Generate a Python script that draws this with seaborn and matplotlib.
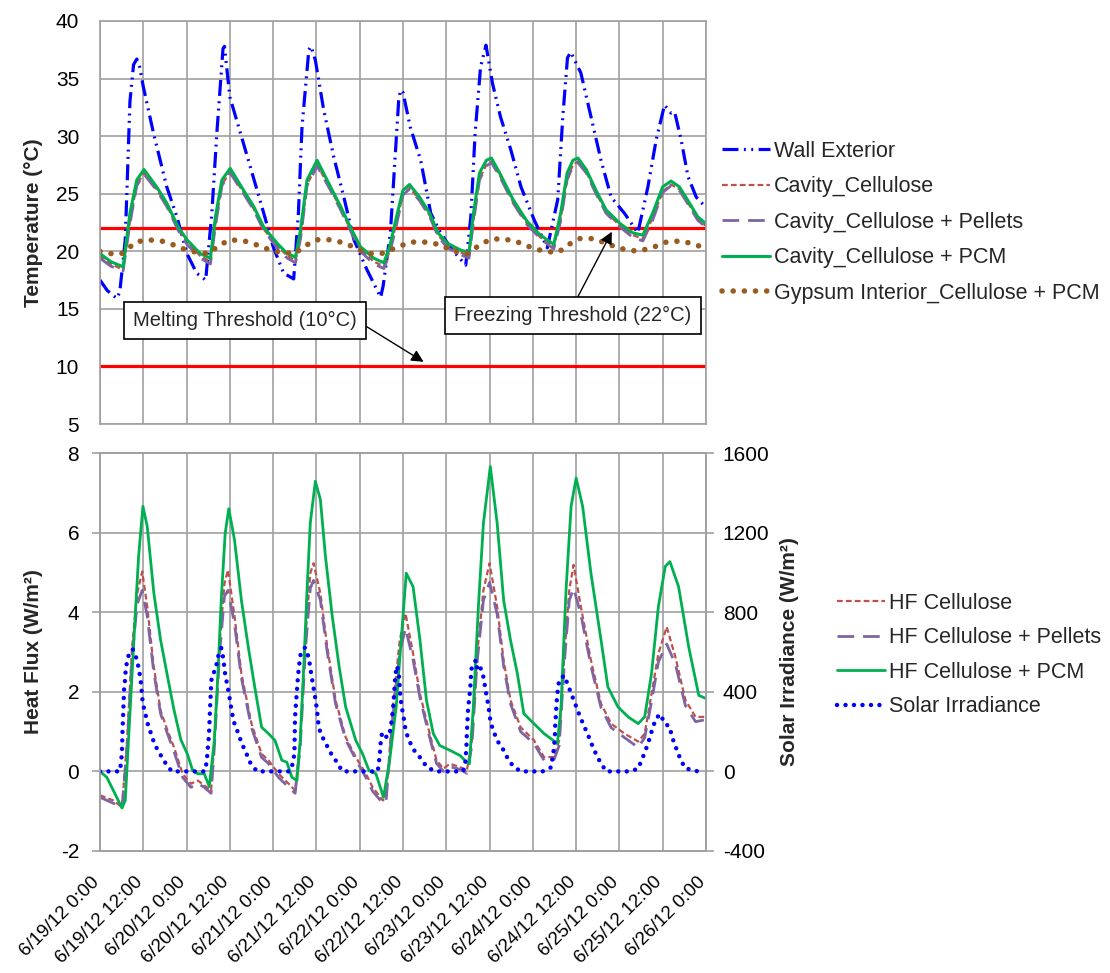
import matplotlib
matplotlib.use("Agg")
import matplotlib.pyplot as plt
import seaborn as sns

sns.set_style("white")
plt.rcParams["font.family"] = ["Liberation Sans", "DejaVu Sans"]
plt.rcParams["axes.unicode_minus"] = False

# ---------------- data (hours since 6/19/12 0:00) ----------------
hour_ticks = [0, 12, 24, 36, 48, 60, 72, 84, 96, 108, 120, 132, 144, 156, 168]
tick_labels = ["6/19/12 0:00", "6/19/12 12:00", "6/20/12 0:00", "6/20/12 12:00",
               "6/21/12 0:00", "6/21/12 12:00", "6/22/12 0:00", "6/22/12 12:00",
               "6/23/12 0:00", "6/23/12 12:00", "6/24/12 0:00", "6/24/12 12:00",
               "6/25/12 0:00", "6/25/12 12:00", "6/26/12 0:00"]

thresholds = [22, 10]

wall_t = [0, 2, 4.7, 5.5, 7, 8.3, 9.3, 10.2, 11, 12, 14.8, 18.5, 21.3, 24.1, 26.8, 29.3,
          31, 32.4, 34.1, 34.5, 36, 38.9, 41.7, 45.4, 48, 50.9, 53.7, 55, 56, 57.9, 58.5,
          59.7, 62, 64.8, 67.6, 70.4, 74, 77.8, 78.5, 80.5, 82.8, 83.3, 84.0, 86, 88.9,
          91.7, 94.4, 97.7, 101.4, 102.8, 104, 105.5, 107, 108.8, 111, 113.9, 116.7,
          120.4, 124, 126.9, 128.3, 129.6, 130.5, 133.3, 136.1, 138.9, 141.7, 145.4,
          149.1, 151.9, 154.2, 156.5, 158.3, 159.3, 161.1, 163, 165.3, 168]
wall_v = [17.5, 16.6, 15.9, 16.5, 21, 33, 36.2, 36.7, 36.0, 34.3, 30.3, 25.6, 23.0, 19.8,
          18.1, 17.5, 23.3, 30.3, 37.6, 37.8, 33.4, 30.3, 27.3, 23.3, 20.4, 18.1, 17.6,
          23.3, 30.8, 37.5, 37.8, 36.6, 32.3, 28.2, 24.7, 21.0, 18.4, 16.0, 17.0, 21.6,
          33.1, 34.0, 33.8, 30.8, 27.9, 23.3, 21.6, 20.1, 18.8, 23.0, 30.3, 36.0, 37.9,
          34.6, 31.7, 28.8, 25.6, 22.7, 20.3, 24.5, 31.7, 36.8, 37.3, 35.5, 31.7, 27.9,
          24.7, 23.3, 21.6, 25.6, 29.7, 32.7, 32.0, 32.1, 29.7, 26.5, 24.7, 23.8]

cav_t = [0, 3, 6.4, 8.3, 10.2, 12.2, 15.7, 18.5, 21.7, 24.1, 27.8, 30.6, 32, 33.8, 36.1,
         39.8, 42.6, 45.4, 49.1, 51.9, 54.2, 55.6, 57.4, 60.2, 63.9, 66.7, 69.4, 72.2,
         75.9, 78.7, 80.3, 82.2, 84, 85.8, 88.6, 91.4, 93.7, 96.3, 100, 102.3, 103.4,
         105.2, 107.1, 108.5, 110.8, 114.5, 118.4, 122.1, 125.8, 127.7, 129.5, 131.1,
         132.5, 134.8, 137.5, 140.3, 144.2, 147.7, 150.5, 153.2, 156, 158.3, 160.6,
         163.4, 165.7, 168]
cav_pcm = [19.8, 19.1, 18.65, 23.3, 26.2, 27.1, 25.6, 24.2, 22.1, 21.0, 19.8, 19.4, 23.0,
           26.2, 27.2, 25.3, 23.9, 22.1, 20.7, 19.8, 19.5, 21.9, 26.2, 27.9, 25.6, 23.9,
           22.1, 20.4, 19.4, 19.0, 20.4, 23.0, 25.3, 25.8, 24.7, 23.3, 21.6, 20.7, 20.1,
           19.9, 23.0, 26.8, 27.9, 28.1, 26.8, 24.5, 22.6, 21.4, 20.6, 23.3, 26.8, 27.9,
           28.1, 27.1, 25.3, 23.6, 22.4, 21.6, 21.4, 23.3, 25.6, 26.1, 25.6, 24.2, 23.0,
           22.4]
cav_cell = [19.6, 18.9, 18.4, 22.6, 25.8, 26.8, 25.4, 24.0, 21.9, 20.8, 19.6, 19.1, 22.4,
            25.8, 26.9, 25.1, 23.7, 21.9, 20.5, 19.6, 19.2, 21.3, 25.8, 27.5, 25.4, 23.7,
            21.9, 20.2, 19.1, 18.7, 20.0, 22.5, 25.0, 25.5, 24.5, 23.1, 21.4, 20.5, 19.9,
            19.6, 22.4, 26.3, 27.5, 27.8, 26.6, 24.3, 22.4, 21.2, 20.4, 22.8, 26.3, 27.5,
            27.8, 26.9, 25.1, 23.4, 22.2, 21.4, 21.1, 22.9, 25.2, 25.8, 25.4, 24.0, 22.8,
            22.2]
cav_pel = [19.4, 18.7, 18.3, 22.4, 25.7, 26.7, 25.3, 23.9, 21.8, 20.6, 19.4, 18.9, 22.2,
           25.7, 26.8, 25.0, 23.6, 21.8, 20.3, 19.4, 19.0, 21.1, 25.7, 27.4, 25.3, 23.6,
           21.8, 20.0, 18.9, 18.5, 19.8, 22.3, 24.9, 25.4, 24.4, 23.0, 21.3, 20.3, 19.7,
           19.4, 22.2, 26.2, 27.4, 27.7, 26.5, 24.2, 22.3, 21.1, 20.2, 22.6, 26.2, 27.4,
           27.7, 26.8, 25.0, 23.3, 22.1, 21.2, 20.9, 22.7, 25.1, 25.7, 25.3, 23.9, 22.7,
           22.1]

gyp_t = [0, 3, 6, 8, 10, 13, 17, 20, 24, 27, 30, 33, 36, 40, 44, 48, 51, 54, 57, 60, 64,
         68, 72, 75, 78, 82, 86, 90, 94, 98, 102, 105, 108, 111, 115, 119, 123, 127, 130,
         133, 137, 141, 145, 149, 153, 157, 161, 165, 168]
gyp_v = [20.0, 19.8, 19.8, 20.3, 20.8, 21.0, 20.9, 20.6, 20.1, 19.9, 19.8, 20.5, 21.0,
         20.9, 20.5, 20.0, 19.9, 19.8, 20.5, 21.0, 21.0, 20.7, 20.1, 19.8, 19.8, 20.3,
         20.8, 20.8, 20.6, 20.0, 19.8, 20.5, 21.0, 21.1, 20.9, 20.4, 20.0, 19.9, 20.6,
         21.1, 21.1, 20.6, 20.2, 20.0, 20.3, 20.8, 20.9, 20.6, 20.2]

hf_pcm_t = [0, 1.9, 3.7, 6.1, 7, 7.9, 8.9, 9.8, 10.7, 11.9, 13.1, 14.9, 16.8, 18.9, 20.5,
            22.4, 24.3, 25.7, 27.1, 28.9, 30.3, 31.7, 32.7, 33.6, 34.7, 35.7, 37.3, 39.2,
            41.1, 42.9, 44.8, 46.7, 48.5, 50.4, 51.8, 53.2, 54.6, 55.5, 56.4, 57.4, 58.3,
            59.7, 61.1, 62.5, 64.4, 66.3, 68.1, 70.9, 72.8, 74.6, 76.5, 78.6, 80.3, 82.1,
            83.5, 84.9, 86.8, 88.7, 90.5, 92.4, 94.2, 97, 99.8, 101.7, 102.4, 103.5, 104.9,
            106.3, 108.2, 110.1, 111.9, 113.8, 115.7, 117.5, 120.3, 123.1, 126.8, 127.8,
            129.2, 130.6, 132, 133.8, 136.1, 138.9, 140.8, 143.6, 146.4, 149.2, 151, 152.9,
            154.8, 156.7, 158, 160.4, 163.2, 166, 168]
hf_pcm = [0.0, -0.15, -0.48, -0.92, -0.73, 0.78, 2.46, 3.97, 5.4, 6.66, 6.15, 4.5, 3.3,
          2.3, 1.55, 0.8, 0.42, 0.02, -0.06, -0.06, -0.38, 0.78, 2.46, 4.3, 5.98, 6.6,
          5.81, 4.3, 3.13, 2.12, 1.11, 0.95, 0.78, 0.28, 0.23, -0.15, -0.23, 0.78, 2.46,
          4.56, 6.24, 7.29, 6.83, 5.4, 3.89, 2.63, 1.62, 0.78, 0.44, 0.02, -0.06, -0.65,
          0.28, 1.62, 3.3, 4.98, 4.64, 3.3, 1.79, 0.95, 0.65, 0.53, 0.4, 0.23, 0.19, 1.62,
          4.14, 6.24, 7.66, 6.24, 4.3, 3.3, 2.46, 1.45, 1.2, 0.95, 0.7, 1.62, 4.56, 6.66,
          7.37, 6.66, 4.98, 3.3, 2.12, 1.62, 1.37, 1.2, 1.37, 2.46, 4.14, 5.15, 5.27, 4.64,
          3.13, 1.91, 1.83]

hf_t = [0, 3.7, 6.1, 7.5, 8.9, 10.3, 11.7, 13.1, 14.9, 16.8, 18.7, 20.5, 22.9, 25.2, 27.1,
        28.9, 30.8, 31.7, 33.1, 34.5, 35.5, 37.3, 39.2, 42, 44.8, 46.7, 49.5, 52.3, 54.1,
        55.5, 56.9, 58.3, 59.2, 61.1, 63, 65.3, 68.1, 70.9, 73.7, 75.6, 78.4, 79.3, 81.2,
        83.1, 84.7, 86.8, 88.7, 91.4, 93.3, 95.2, 97, 99.8, 101.7, 103.1, 104.5, 106.3,
        108, 110.1, 111.9, 113.8, 116.6, 120.3, 123.1, 125.9, 127.3, 128.7, 130.1, 131.3,
        133.3, 136.1, 138.9, 141.7, 145.4, 149.2, 151, 152.9, 154.8, 157.1, 159.5, 162.3,
        165.1, 168]
hf_cell = [-0.6, -0.73, -0.9, 0.78, 3.13, 4.47, 5.02, 4.14, 2.63, 1.53, 1.03, 0.61, -0.06,
           -0.31, -0.23, -0.35, -0.48, 0.78, 3.13, 4.72, 5.06, 3.89, 2.46, 1.2, 0.44, 0.28,
           -0.06, -0.31, -0.48, 0.78, 3.3, 4.98, 5.23, 4.47, 3.13, 1.79, 0.86, 0.36, -0.06,
           -0.4, -0.73, -0.65, 1.62, 3.3, 3.97, 2.96, 1.95, 0.95, 0.28, 0.07, 0.19, 0.11,
           0.02, 0.78, 2.88, 4.56, 5.23, 4.14, 2.79, 1.79, 1.11, 0.78, 0.36, 0.36, 0.78,
           2.88, 4.56, 5.19, 4.14, 2.79, 1.7, 1.2, 0.95, 0.75, 0.95, 1.95, 2.96, 3.63, 2.88,
           1.79, 1.37, 1.37]
hf_pel = [-0.65, -0.8, -0.92, 0.6, 2.9, 4.2, 4.55, 3.9, 2.5, 1.45, 0.95, 0.5, -0.15, -0.4,
          -0.3, -0.4, -0.55, 0.6, 2.9, 4.4, 4.55, 3.7, 2.35, 1.1, 0.35, 0.2, -0.15, -0.4,
          -0.55, 0.6, 3.0, 4.6, 4.8, 4.3, 3.0, 1.7, 0.8, 0.3, -0.15, -0.5, -0.8, -0.75, 1.4,
          3.0, 3.6, 2.8, 1.85, 0.85, 0.2, 0.0, 0.12, 0.05, -0.05, 0.65, 2.7, 4.3, 4.75,
          3.95, 2.65, 1.7, 1.0, 0.7, 0.28, 0.3, 0.65, 2.7, 4.3, 4.6, 3.95, 2.65, 1.6, 1.1,
          0.85, 0.6, 0.85, 1.75, 2.75, 3.2, 2.7, 1.65, 1.25, 1.3]

sol_t = [0, 2, 4, 5.5, 5.74, 6.02, 6.15, 6.2, 6.3, 6.4, 6.55, 6.67, 6.94, 7.13, 7.69, 8.3,
         9.07, 10.19, 10.83, 11.3, 11.57, 11.85, 12.5, 13.24, 14.17, 15.1, 16.48, 18.15,
         19.9, 22.7, 25.9, 29.0, 29.6, 29.8, 30.1, 30.3, 30.4, 30.55, 30.65, 30.8, 31.0,
         32.2, 32.4, 33.6, 34.26, 34.5, 35.0, 35.6, 36.1, 36.6, 37.3, 38.4, 39.3, 40.5,
         41.5, 43.5, 46.5, 49.5, 52.6, 53.5, 53.9, 53.95, 54.0, 54.05, 54.2, 54.45, 54.7,
         54.9, 55.2, 55.6, 56.8, 57.9, 58.3, 58.8, 59.3, 59.8, 60.2, 60.5, 61.1, 62.5,
         63.9, 65.6, 67.2, 70, 73, 77.0, 77.3, 77.6, 77.8, 78.2, 78.9, 80.1, 80.6, 81.0,
         81.3, 81.5, 81.7, 81.9, 82.4, 82.9, 83.1, 83.3, 83.8, 84.3, 84.7, 85.6, 87.0,
         88.9, 90.7, 93.1, 96, 99, 100.6, 101.2, 101.4, 101.6, 101.7, 101.85, 102.0, 102.3,
         102.6, 102.8, 102.9, 104.2, 104.6, 105.4, 106.3, 106.9, 107.4, 107.9, 108.3,
         109.3, 110.6, 112.0, 113.0, 114.6, 116.7, 120, 122.7, 125.0, 125.5, 125.9, 126.1,
         126.2, 126.4, 126.6, 126.9, 127.3, 128.7, 129.9, 131.0, 132.1, 133.1, 134.3,
         135.5, 136.6, 138.0, 140.3, 143.2, 146.3, 149.1, 150.3, 151.4, 152.3, 153.2,
         154.2, 155.4, 156.5, 157.9, 158.6, 159.7, 160.8, 162.2, 165.8]
sol_v = [0, 0, 0, 0, 32, 82, 132, 182, 234, 294, 350, 410, 460, 514, 570, 600, 614, 564,
         510, 454, 400, 344, 294, 238, 188, 138, 92, 42, 0, 0, 0, 0, 48, 98, 158, 216, 272,
         328, 374, 428, 484, 514, 560, 620, 560, 510, 460, 404, 350, 292, 238, 188, 140,
         94, 48, 0, 0, 0, 0, 42, 92, 152, 206, 260, 310, 370, 426, 480, 532, 588, 622,
         572, 518, 464, 410, 354, 300, 246, 192, 144, 94, 48, 0, 0, 0, 0, 42, 92, 142,
         194, 174, 174, 224, 274, 328, 384, 442, 488, 530, 476, 422, 368, 310, 258, 208,
         158, 108, 66, 20, 0, 0, 0, 0, 24, 74, 132, 192, 244, 300, 358, 408, 462, 512,
         560, 510, 525, 474, 408, 358, 300, 244, 192, 140, 104, 66, 24, 0, 0, 0, 20, 74,
         124, 174, 230, 294, 350, 408, 460, 482, 426, 374, 322, 274, 224, 174, 124, 68, 0,
         0, 0, 12, 62, 114, 162, 218, 268, 288, 240, 226, 172, 118, 66, 16, 0]

# ---------------- figure ----------------
W, H = 1110, 973
fig = plt.figure(figsize=(W / 100, H / 100), dpi=100)
ax1 = fig.add_axes([100 / W, 1 - 424 / H, 606 / W, 403 / H])
ax2 = fig.add_axes([100 / W, 1 - 851 / H, 606 / W, 398 / H])
ax3 = ax2.twinx()

GRID = "#A0A0A0"
FS = 15

# top panel
for th in thresholds:
    ax1.axhline(th, color="#FF0000", lw=2.3, zorder=2)

sns.lineplot(x=wall_t, y=wall_v, ax=ax1, color="#0000FF", lw=2.3, legend=False,
             estimator=None, linestyle=(0, (5, 1.7, 0.6, 1.7, 0.6, 1.7)),
             label="Wall Exterior")
sns.lineplot(x=cav_t, y=cav_cell, ax=ax1, color="#C0504D", lw=1.6, legend=False,
             estimator=None, linestyle=(0, (2.6, 1.4)), label="Cavity_Cellulose")
sns.lineplot(x=cav_t, y=cav_pel, ax=ax1, color="#8064A2", lw=2.0, legend=False,
             estimator=None, linestyle=(0, (6, 3.2)), label="Cavity_Cellulose + Pellets")
sns.lineplot(x=cav_t, y=cav_pcm, ax=ax1, color="#00B050", lw=2.2, legend=False,
             estimator=None, label="Cavity_Cellulose + PCM")
sns.lineplot(x=gyp_t, y=gyp_v, ax=ax1, color="#9A5B20", lw=4.0, legend=False,
             estimator=None, linestyle=(0, (0.01, 2.0)), dash_capstyle="round",
             label="Gypsum Interior_Cellulose + PCM")

ax1.set_xlim(0, 168)
ax1.set_ylim(5, 40)
ax1.set_yticks(range(5, 41, 5))
ax1.set_xticks(hour_ticks)
ax1.set_xticklabels([])
ax1.set_ylabel("Temperature (°C)", fontsize=FS, fontweight="bold")
ax1.yaxis.set_label_coords(-0.094, 0.5)

ax1.annotate("Melting Threshold (10°C)", xy=(89.7, 10.4), xytext=(40.1, 14.0),
             fontsize=14.5, ha="center", va="center",
             bbox=dict(boxstyle="square,pad=0.45", fc="white", ec="black", lw=1.2),
             arrowprops=dict(arrowstyle="-|>", color="black", lw=1.0,
                             mutation_scale=18, relpos=(1, 0.5), shrinkA=0, shrinkB=0),
             zorder=6)
ax1.annotate("Freezing Threshold (22°C)", xy=(141.9, 21.7), xytext=(131.1, 14.4),
             fontsize=14.5, ha="center", va="center",
             bbox=dict(boxstyle="square,pad=0.45", fc="white", ec="black", lw=1.2),
             arrowprops=dict(arrowstyle="-|>", color="black", lw=1.0,
                             mutation_scale=18, relpos=(0.5, 1), shrinkA=0, shrinkB=0),
             zorder=6)

# bottom panel
sns.lineplot(x=hf_t, y=hf_cell, ax=ax2, color="#C0504D", lw=1.6, legend=False,
             estimator=None, linestyle=(0, (2.6, 1.4)), label="HF Cellulose")
sns.lineplot(x=hf_t, y=hf_pel, ax=ax2, color="#8064A2", lw=2.0, legend=False,
             estimator=None, linestyle=(0, (6, 3.2)), label="HF Cellulose + Pellets")
sns.lineplot(x=hf_pcm_t, y=hf_pcm, ax=ax2, color="#00B050", lw=2.0, legend=False,
             estimator=None, label="HF Cellulose + PCM")
sns.lineplot(x=sol_t, y=sol_v, ax=ax3, color="#0000FF", lw=3.2, legend=False,
             estimator=None, linestyle=(0, (0.01, 1.9)), dash_capstyle="round",
             label="Solar Irradiance")

ax2.set_xlim(0, 168)
ax2.set_ylim(-2, 8)
ax2.set_yticks(range(-2, 9, 2))
ax2.set_xticks(hour_ticks)
ax2.set_xticklabels(tick_labels, rotation=45, ha="right", va="baseline",
                    rotation_mode="anchor", fontsize=13.5)
ax3.set_ylim(-400, 1600)
ax3.set_yticks(range(-400, 1601, 400))
ax2.set_ylabel("Heat Flux (W/m²)", fontsize=FS, fontweight="bold")
ax2.yaxis.set_label_coords(-0.094, 0.5)
ax3.set_ylabel("Solar Irradiance (W/m²)", fontsize=FS, fontweight="bold")
ax3.yaxis.set_label_coords(1.1225, 0.5)

for ax in (ax1, ax2):
    ax.grid(True, color=GRID, lw=1.2)
    ax.set_axisbelow(True)
    ax.set_xlabel("")
for ax in (ax1, ax2, ax3):
    for s in ax.spines.values():
        s.set_color(GRID)
        s.set_linewidth(1.2)
    ax.tick_params(axis="both", direction="out", length=6, width=1.2, color=GRID,
                   labelsize=FS, labelcolor="black")
ax2.tick_params(axis="x", labelsize=13.5)
ax1.tick_params(axis="y", pad=9)
ax2.tick_params(axis="y", pad=9)
ax2.tick_params(axis="x", pad=17)
ax3.tick_params(axis="y", pad=6)
ax3.grid(False)

# legends
h1, l1 = ax1.get_legend_handles_labels()
fig.legend(h1, l1, loc="upper left", bbox_to_anchor=(722 / W, 1 - 141 / H),
           frameon=False, fontsize=15.5, handlelength=2.25, handletextpad=0.15,
           labelspacing=0.67, borderpad=0, borderaxespad=0)
h2, l2 = ax2.get_legend_handles_labels()
h3, l3 = ax3.get_legend_handles_labels()
fig.legend(h2 + h3, l2 + l3, loc="upper left", bbox_to_anchor=(837 / W, 1 - 593 / H),
           frameon=False, fontsize=15.5, handlelength=2.25, handletextpad=0.15,
           labelspacing=0.62, borderpad=0, borderaxespad=0)

fig.savefig("out.png", dpi=100)
